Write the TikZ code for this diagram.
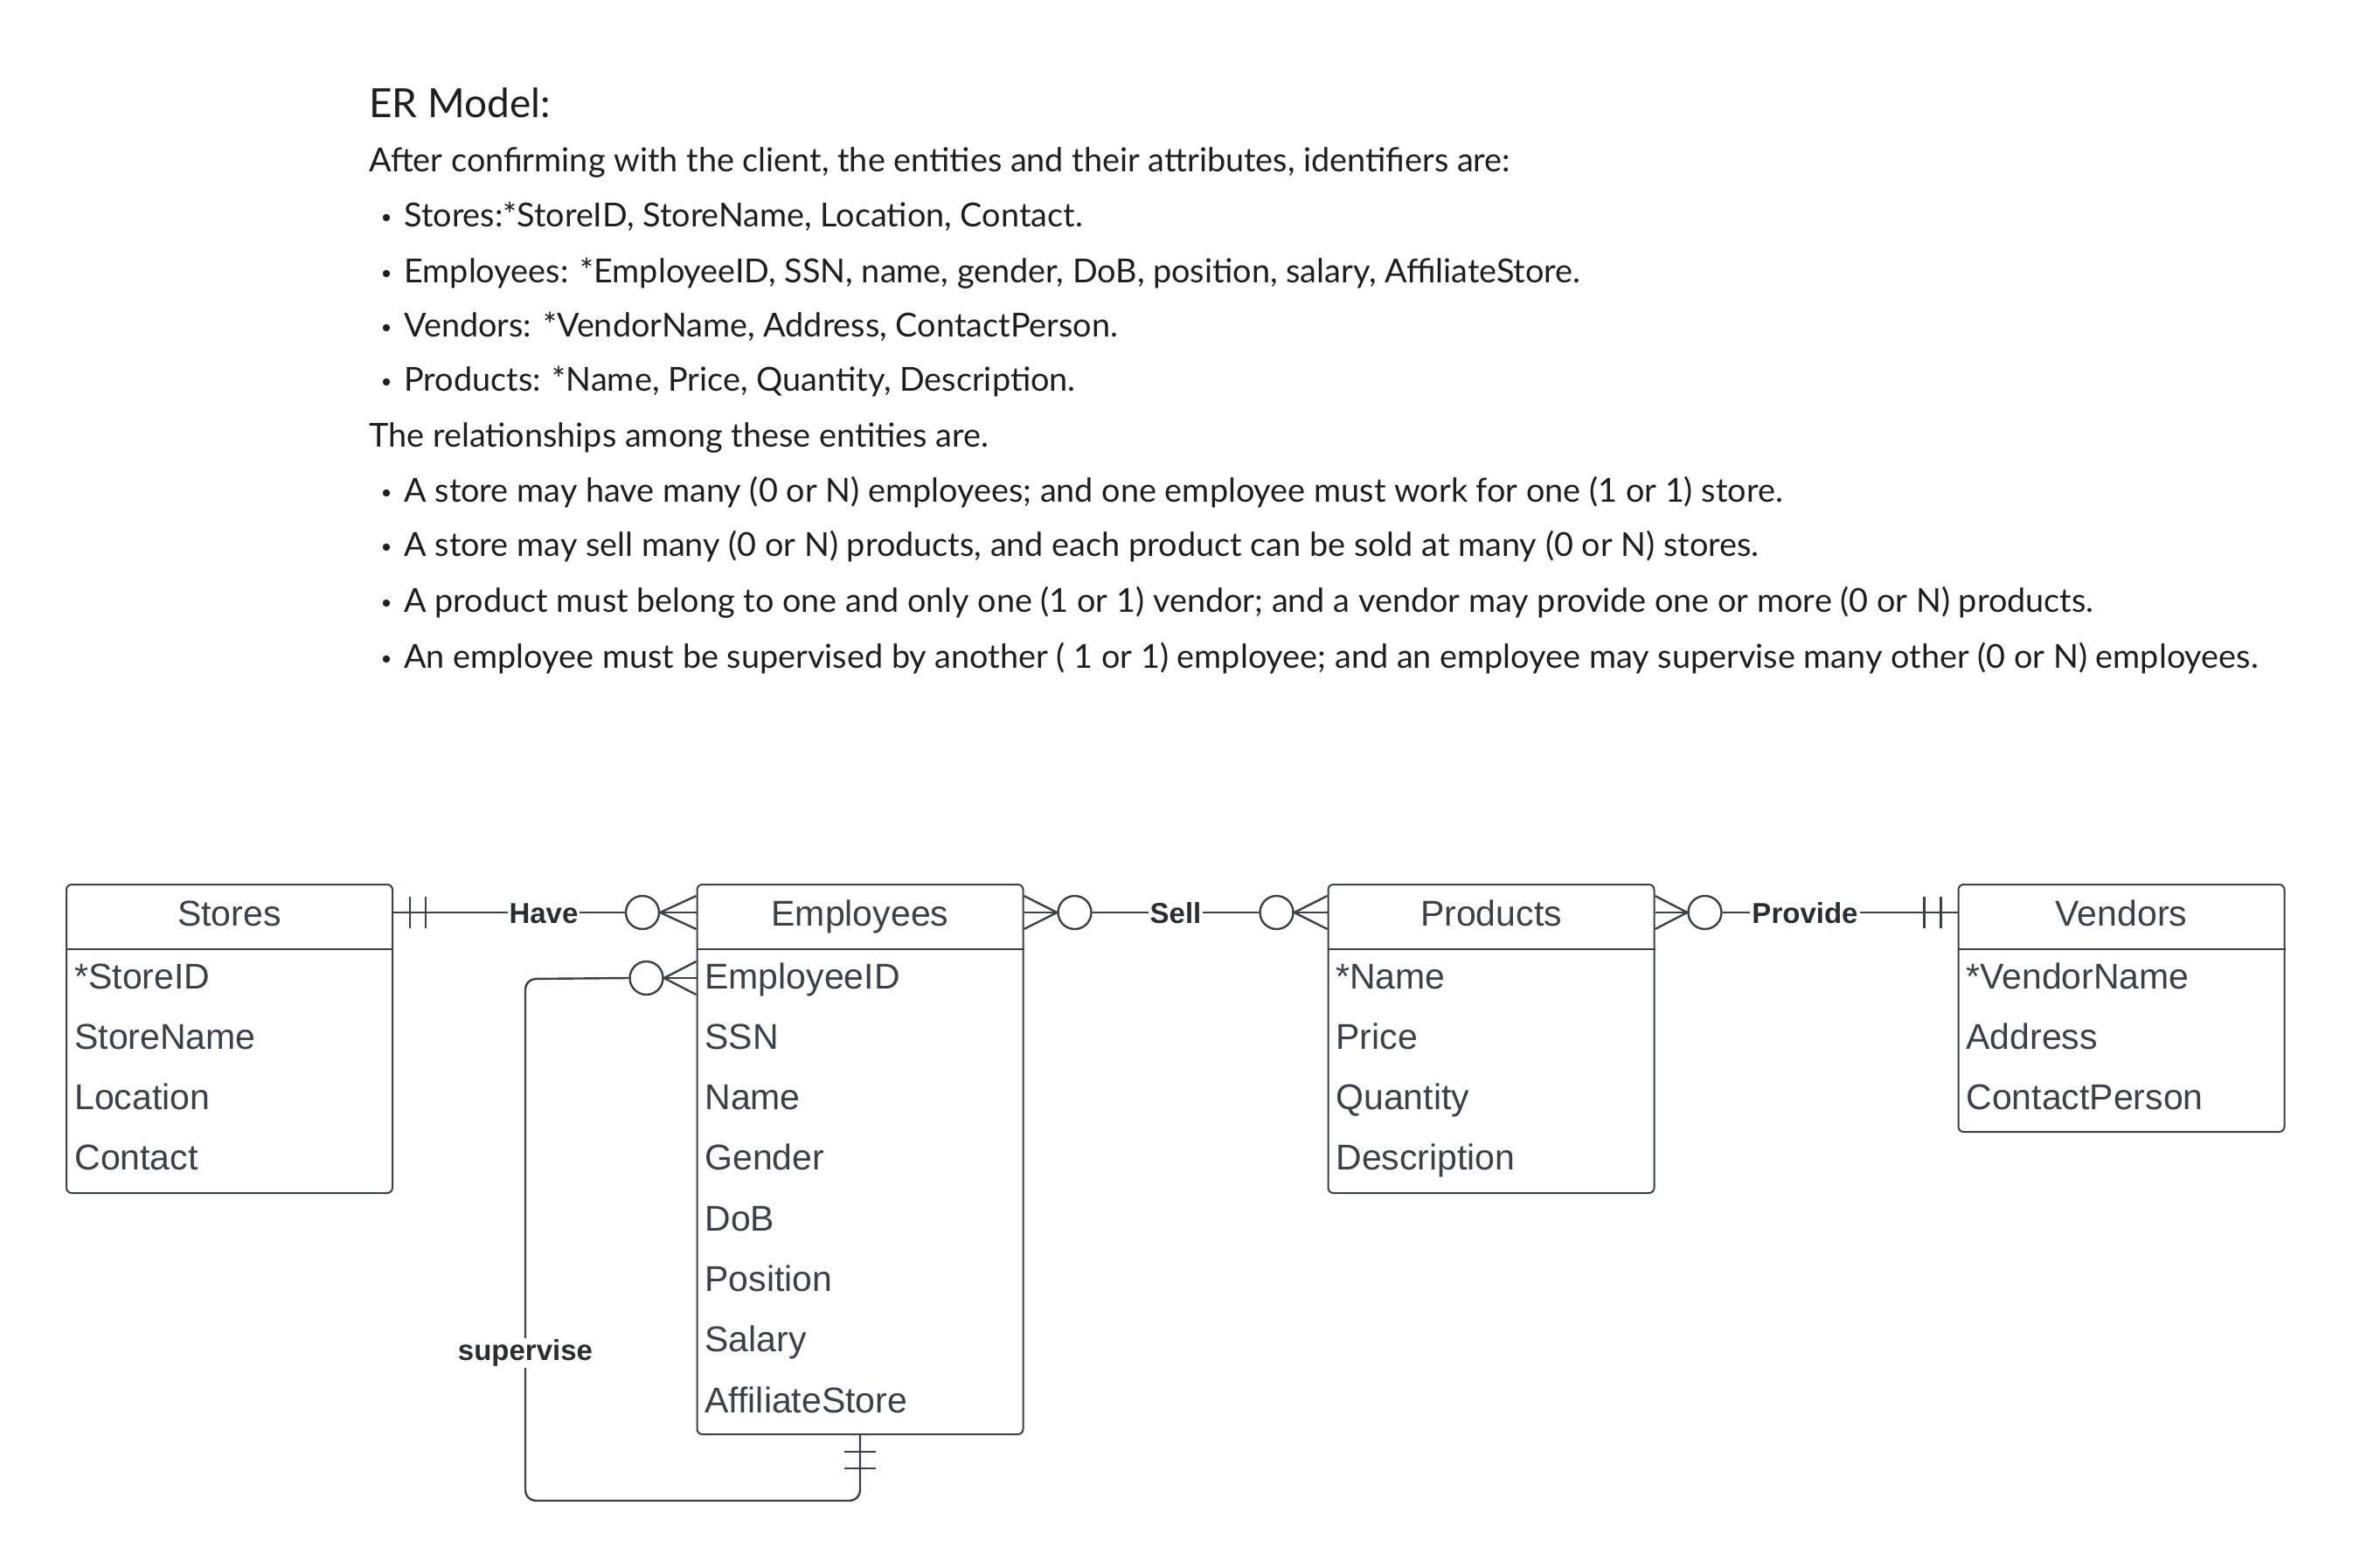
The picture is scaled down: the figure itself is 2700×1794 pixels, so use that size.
\documentclass[tikz,border=0pt]{standalone}
\usepackage{fontspec}
\setmainfont{Lato}
\newfontfamily\arialf{Liberation Sans}
\usetikzlibrary{calc}
\definecolor{ink}{RGB}{30,30,30}
\definecolor{slate}{RGB}{58,65,74}
\begin{document}
\begin{tikzpicture}[x=0.5pt,y=-0.5pt,
  entity/.style={draw=slate, line width=1pt, rounded corners=3pt, inner sep=0pt, fill=white, minimum width=186.5pt},
  sepline/.style={draw=slate, line width=0.9pt},
  hdr/.style={font=\arialf\fontsize{20.5}{24}\selectfont, text=slate, anchor=base, inner sep=0pt},
  attr/.style={font=\arialf\fontsize{20.5}{24}\selectfont, text=slate, anchor=base west, inner sep=0pt},
  rel/.style={draw=slate, line width=1.2pt},
  circ/.style={circle, draw=slate, line width=1.2pt, fill=white, minimum size=19pt, inner sep=0pt},
  lbl/.style={font=\arialf\bfseries\fontsize{16.5}{20}\selectfont, text=slate!70!black, fill=white, inner sep=1pt},
  body/.style={font=\fontsize{18.9}{22}\selectfont, text=ink, anchor=base west, inner sep=0pt},
  dot/.style={circle, fill=ink, inner sep=0pt, minimum size=4.2pt},
]
\useasboundingbox (0,0) rectangle (2700,1794);

% ---------- text block ----------
\node[body, font=\fontsize{23}{28}\selectfont] (t0) at (422,134) {ER Model:};
\node[body] (t1) at (422,196) {After confirming with the client, the entities and their attributes, identifiers are:};
\foreach \y/\nm/\txt in {
  259/b1/{Stores:*StoreID, StoreName, Location, Contact.},
  323/b2/{Employees: *EmployeeID, SSN, name, gender, DoB, position, salary, AffiliateStore.},
  385/b3/{Vendors: *VendorName, Address, ContactPerson.},
  447/b4/{Products: *Name, Price, Quantity, Description.},
  574/b5/{A store may have many (0 or N) employees; and one employee must work for one (1 or 1) store.},
  636/b6/{A store may sell many (0 or N) products, and each product can be sold at many (0 or N) stores.},
  700/b7/{A product must belong to one and only one (1 or 1) vendor; and a vendor may provide one or more (0 or N) products.},
  764/b8/{An employee must be supervised by another ( 1 or 1) employee; and an employee may supervise many other (0 or N) employees.}}
{
  \node[dot] (\nm-dot) at (442,\y-10) {};
  \node[body] (\nm) at (462,\y) {\txt};
}
\node[body] (t2) at (422,511) {The relationships among these entities are.};

% ---------- entities ----------
\node[entity, minimum height=176.5pt] (stores) at (262.5,1188.5) {};
\node[entity, minimum height=314.5pt] (emp) at (984,1326.5) {};
\node[entity, minimum height=176.5pt] (prod) at (1706,1188.5) {};
\node[entity, minimum height=141.5pt] (vend) at (2427,1153.5) {};

\foreach \e in {stores,emp,prod,vend}
  \draw[sepline] ($(\e.north west)+(0,75)$) -- ($(\e.north east)+(0,75)$);

\node[hdr] (stores-h) at (262.5,1059) {Stores};
\node[hdr] (emp-h) at (984,1059) {Employees};
\node[hdr] (prod-h) at (1706,1059) {Products};
\node[hdr] (vend-h) at (2427,1059) {Vendors};

\foreach \t [count=\i from 0] in {*StoreID,StoreName,Location,Contact}
  \node[attr] (stores-a\i) at (85,{1131+69.3*\i}) {\t};
\foreach \t [count=\i from 0] in {EmployeeID,SSN,Name,Gender,DoB,Position,Salary,AffiliateStore}
  \node[attr] (emp-a\i) at (806,{1131+69.3*\i}) {\t};
\foreach \t [count=\i from 0] in {*Name,Price,Quantity,Description}
  \node[attr] (prod-a\i) at (1528,{1131+69.3*\i}) {\t};
\foreach \t [count=\i from 0] in {*VendorName,Address,ContactPerson}
  \node[attr] (vend-a\i) at (2249,{1131+69.3*\i}) {\t};

% ---------- Have ----------
\coordinate (have-s) at ($(stores.north east)+(0,33)$);
\coordinate (have-e) at ($(emp.north west)+(0,33)$);
\node[circ] (have-c) at ($(have-e)+(-61.5,0)$) {};
\draw[rel] (have-s) -- (have-c.west);
\draw[rel] (have-c.east) -- (have-e);
\draw[rel] ($(have-e)+(0,-19)$) -- (have-c.east) -- ($(have-e)+(0,19)$);
\draw[rel] ($(have-s)+(19,-18)$) -- ++(0,36);
\draw[rel] ($(have-s)+(37,-18)$) -- ++(0,36);
\node[lbl] (have-l) at (622,1045) {Have};

% ---------- Sell ----------
\coordinate (sell-s) at ($(emp.north east)+(0,33)$);
\coordinate (sell-e) at ($(prod.north west)+(0,33)$);
\node[circ] (sell-c1) at ($(sell-s)+(58,0)$) {};
\node[circ] (sell-c2) at ($(sell-e)+(-58,0)$) {};
\draw[rel] (sell-s) -- (sell-c1.west);
\draw[rel] ($(sell-s)+(0,-19)$) -- (sell-c1.west) -- ($(sell-s)+(0,19)$);
\draw[rel] (sell-c1.east) -- (sell-c2.west);
\draw[rel] (sell-c2.east) -- (sell-e);
\draw[rel] ($(sell-e)+(0,-19)$) -- (sell-c2.east) -- ($(sell-e)+(0,19)$);
\node[lbl] (sell-l) at (1345,1045) {Sell};

% ---------- Provide ----------
\coordinate (prov-s) at ($(prod.north east)+(0,33)$);
\coordinate (prov-e) at ($(vend.north west)+(0,33)$);
\node[circ] (prov-c) at ($(prov-s)+(57,0)$) {};
\draw[rel] (prov-s) -- (prov-c.west);
\draw[rel] ($(prov-s)+(0,-19)$) -- (prov-c.west) -- ($(prov-s)+(0,19)$);
\draw[rel] (prov-c.east) -- (prov-e);
\draw[rel] ($(prov-e)+(-19,-18)$) -- ++(0,36);
\draw[rel] ($(prov-e)+(-38,-18)$) -- ++(0,36);
\node[lbl] (prov-l) at (2065,1045) {Provide};

% ---------- supervise ----------
\coordinate (sup-s) at ($(emp.north west)+(0,108)$);
\coordinate (sup-e) at (emp.south);
\node[circ] (sup-c) at ($(sup-s)+(-57,0)$) {};
\draw[rel] (sup-c.east) -- (sup-s);
\draw[rel] ($(sup-s)+(0,-19)$) -- (sup-c.east) -- ($(sup-s)+(0,19)$);
\draw[rel, rounded corners=6pt] (sup-c.west) -- (601,1120) -- (601,1717) -- (984,1717) -- (sup-e);
\draw[rel] ($(sup-e)+(-18,19)$) -- ++(36,0);
\draw[rel] ($(sup-e)+(-18,38)$) -- ++(36,0);
\node[lbl] (sup-l) at (601,1548) {supervise};
\end{tikzpicture}
\end{document}
